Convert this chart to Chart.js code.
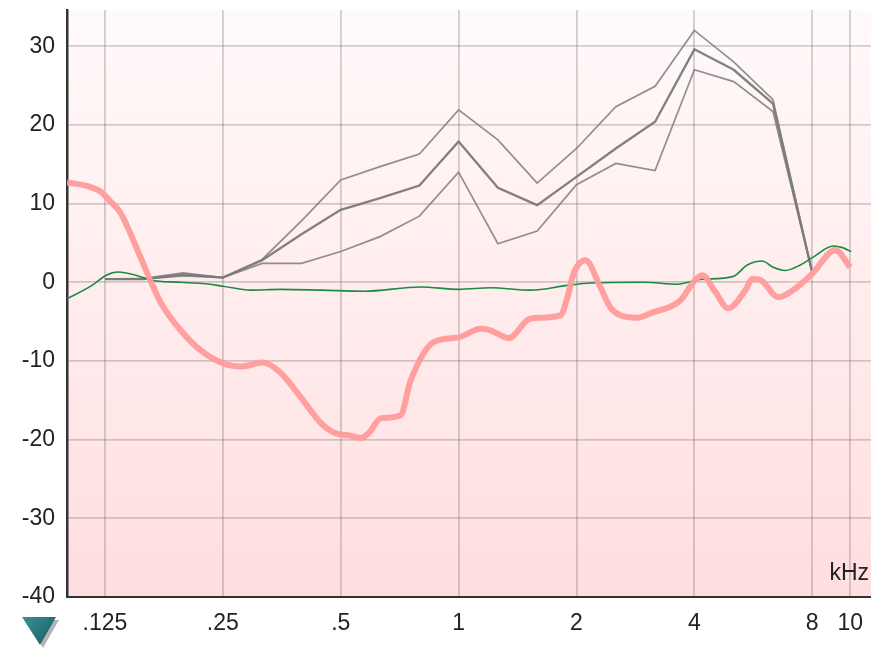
<!DOCTYPE html>
<html lang="en">
<head>
<meta charset="utf-8">
<title>Audiogram</title>
<script src="https://cdn.jsdelivr.net/npm/chart.js@4.4.1/dist/chart.umd.min.js"></script>
<style>
	html, body {
		margin: 0;
		padding: 0;
		background: #ffffff;
	}
	.chart-wrap {
		position: relative;
		width: 871px;
		height: 649px;
	}
</style>
</head>
<body>
<div class="chart-wrap">
	<canvas id="audioChart"></canvas>
</div>
<script>
// --- Axis ticks ---
const xTickValues = [0.125, 0.25, 0.5, 1, 2, 4, 8, 10];
const xTickLabels = [".125", ".25", ".5", "1", "2", "4", "8", "10"];
const yTickValues = [-40, -30, -20, -10, 0, 10, 20, 30];

// --- Gray target curves (1/3 octave points, kHz) ---
const thirdOctaveFreqs = [
	0.125, 0.157, 0.198, 0.25, 0.315, 0.397, 0.5, 0.63, 0.794, 1, 1.26, 1.587,
	2, 2.52, 3.175, 4, 5.04, 6.35, 8,
];
const targetUpper = [
	0.4, 0.5, 1.2, 0.6, 2.9, 7.8, 13.0, 14.7, 16.3, 21.9, 18.1, 12.6, 17.0,
	22.3, 24.9, 32.0, 28.0, 23.2, 1.2,
];
const targetMiddle = [
	0.4, 0.4, 1.0, 0.6, 2.8, 6.1, 9.2, 10.7, 12.3, 17.9, 12.0, 9.8, 13.4, 17.0,
	20.4, 29.6, 27.0, 22.7, 1.2,
];
const targetLower = [
	0.4, 0.4, 0.8, 0.6, 2.4, 2.4, 3.9, 5.8, 8.4, 14.0, 4.9, 6.5, 12.4, 15.1,
	14.2, 27.0, 25.5, 21.7, 1.2,
];

// --- Measured response (pink) ---
const measuredFreqs = [
	0.1, 0.115, 0.122, 0.1295, 0.137, 0.154, 0.164, 0.174, 0.195, 0.22, 0.25,
	0.278, 0.316, 0.351, 0.395, 0.445, 0.485, 0.53, 0.562, 0.589, 0.632, 0.711,
	0.754, 0.864, 1.0, 1.138, 1.207, 1.342, 1.527, 1.82, 1.897, 1.965, 2.11,
	2.3, 2.44, 2.59, 2.86, 3.14, 3.475, 3.684, 4.02, 4.19, 4.52, 4.88, 5.4,
	5.62, 5.89, 6.55, 7.24, 8.0, 9.16, 10.0,
];
const measuredValues = [
	12.7, 12.1, 11.5, 10.2, 8.8, 3.2, 0.0, -2.7, -6.1, -8.7, -10.3, -10.7,
	-10.2, -11.5, -14.6, -17.9, -19.2, -19.5, -19.8, -19.2, -17.3, -16.9,
	-12.5, -7.6, -7.0, -5.9, -6.1, -7.1, -4.6, -4.2, -1.9, 1.1, 2.8, -0.6,
	-3.2, -4.2, -4.5, -3.8, -3.1, -2.3, 0.3, 0.9, -1.2, -3.3, -1.0, 0.4, 0.3,
	-1.9, -0.8, 1.1, 4.1, 1.9,
];

// --- Reference response (green) ---
const referenceFreqs = [
	0.1, 0.115, 0.126, 0.135, 0.15, 0.164, 0.195, 0.226, 0.25, 0.295, 0.351,
	0.445, 0.572, 0.8, 1.0, 1.207, 1.527, 1.897, 2.17, 2.965, 3.62, 4.14, 5.03,
	5.46, 5.96, 6.36, 6.83, 7.46, 8.04, 9.05, 9.56, 10.06,
];
const referenceValues = [
	-2.1, -0.5, 0.9, 1.3, 0.9, 0.25, 0.0, -0.2, -0.5, -1.0, -0.9, -1.0, -1.15,
	-0.6, -0.9, -0.7, -1.0, -0.4, -0.1, 0.0, -0.25, 0.35, 0.75, 2.2, 2.7, 1.9,
	1.5, 2.2, 3.2, 4.6, 4.4, 3.9,
];

document.addEventListener("DOMContentLoaded", function () {
	const ctx = document.getElementById("audioChart");
	const labelFont = { family: "'Liberation Sans', Arial, sans-serif", size: 23 };
	const gridColor = "rgba(110, 100, 100, 0.3)";

	function toPoints(freqs, values) {
		return freqs.map((f, i) => ({ x: f, y: values[i] }));
	}

	// Pink gradient behind the plot, plus the kHz caption and the marker
	const decorPlugin = {
		id: "decor",
		beforeDraw(chart) {
			const { ctx, chartArea } = chart;
			const grad = ctx.createLinearGradient(0, chartArea.top, 0, chartArea.bottom);
			grad.addColorStop(0, "#fffafa");
			grad.addColorStop(1, "#ffdee0");
			ctx.save();
			ctx.fillStyle = grad;
			ctx.fillRect(chartArea.left, chartArea.top, chartArea.right - chartArea.left, chartArea.bottom - chartArea.top);
			ctx.restore();
		},
		afterDraw(chart) {
			const { ctx, chartArea } = chart;
			ctx.save();
			ctx.font = "23px 'Liberation Sans', Arial, sans-serif";
			ctx.fillStyle = "#222222";
			ctx.textAlign = "right";
			ctx.textBaseline = "alphabetic";
			ctx.fillText("kHz", chartArea.right - 2, chartArea.bottom - 17);

			// shadow of the marker
			ctx.fillStyle = "rgba(160, 160, 160, 0.8)";
			ctx.beginPath();
			ctx.moveTo(25, 620);
			ctx.lineTo(59, 620);
			ctx.lineTo(43, 648);
			ctx.closePath();
			ctx.fill();

			const tri = ctx.createLinearGradient(22, 617, 56, 645);
			tri.addColorStop(0, "#3c9297");
			tri.addColorStop(1, "#185a60");
			ctx.fillStyle = tri;
			ctx.beginPath();
			ctx.moveTo(22, 617);
			ctx.lineTo(56, 617);
			ctx.lineTo(40, 645);
			ctx.closePath();
			ctx.fill();
			ctx.restore();
		},
	};

	const grayLine = {
		borderColor: "rgba(125, 125, 125, 0.85)",
		borderWidth: 1.7,
		pointRadius: 0,
		tension: 0,
		fill: false,
	};

	new Chart(ctx, {
		type: "line",
		data: {
			datasets: [
				{
					label: "Measured",
					data: toPoints(measuredFreqs, measuredValues),
					borderColor: "rgba(255, 155, 155, 0.95)",
					borderWidth: 6,
					pointRadius: 0,
					cubicInterpolationMode: "monotone",
					order: 1,
				},
				{
					label: "Reference",
					data: toPoints(referenceFreqs, referenceValues),
					borderColor: "#1a8a44",
					borderWidth: 1.6,
					pointRadius: 0,
					cubicInterpolationMode: "monotone",
					order: 2,
				},
				Object.assign({ label: "Target upper", data: toPoints(thirdOctaveFreqs, targetUpper), order: 3 }, grayLine),
				Object.assign({ label: "Target", data: toPoints(thirdOctaveFreqs, targetMiddle), order: 3 }, grayLine, { borderWidth: 2.3, borderColor: "rgba(115, 115, 115, 0.9)" }),
				Object.assign({ label: "Target lower", data: toPoints(thirdOctaveFreqs, targetLower), order: 3 }, grayLine),
			],
		},
		plugins: [decorPlugin],
		options: {
			responsive: true,
			maintainAspectRatio: false,
			animation: false,
			layout: { padding: { top: 10, right: 0, left: 0, bottom: 0 } },
			plugins: {
				legend: { display: false },
				tooltip: { enabled: false },
			},
			scales: {
				x: {
					type: "logarithmic",
					min: 0.1,
					max: 11.3,
					afterBuildTicks: (axis) => {
						axis.ticks = xTickValues.map((v) => ({ value: v }));
					},
					afterFit: (axis) => {
						axis.height = 52;
						axis.paddingLeft = 0;
						axis.paddingRight = 0;
					},
					ticks: {
						autoSkip: false,
						maxRotation: 0,
						padding: 13,
						color: "#222222",
						font: labelFont,
						callback: (value, index) => xTickLabels[index],
					},
					grid: {
						color: gridColor,
						lineWidth: 1.8,
						drawTicks: false,
					},
					border: { color: "#333333", width: 2 },
				},
				y: {
					min: -40,
					max: 34.6,
					afterBuildTicks: (axis) => {
						axis.ticks = yTickValues.map((v) => ({ value: v }));
					},
					afterFit: (axis) => {
						axis.width = 67;
						axis.paddingTop = 0;
						axis.paddingBottom = 0;
					},
					ticks: {
						padding: 12,
						color: "#222222",
						font: labelFont,
					},
					grid: {
						color: gridColor,
						lineWidth: 1.8,
						drawTicks: false,
					},
					border: { color: "#333333", width: 2.5 },
				},
			},
		},
	});
});
</script>
</body>
</html>
